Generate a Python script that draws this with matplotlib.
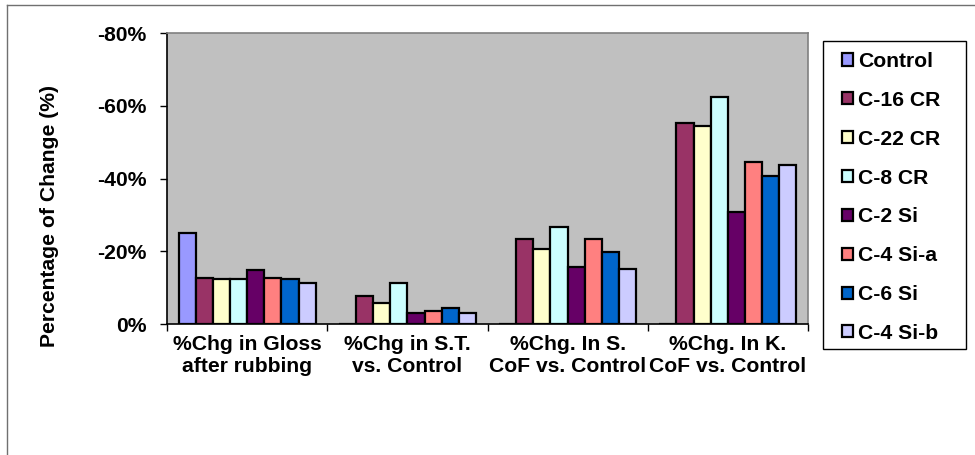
import numpy as np
import matplotlib
matplotlib.use('Agg')
import matplotlib.pyplot as plt
from matplotlib.patches import Rectangle
from matplotlib.lines import Line2D
from matplotlib.ticker import FuncFormatter

plt.rcParams['font.family'] = ['Liberation Sans', 'DejaVu Sans']
plt.rcParams['font.weight'] = 'bold'

# data: percentage change (negative = reduction)
categories = ['%Chg in Gloss\nafter rubbing', '%Chg in S.T.\nvs. Control',
              '%Chg. In S.\nCoF vs. Control', '%Chg. In K.\nCoF vs. Control']
series_names = ['Control', 'C-16 CR', 'C-22 CR', 'C-8 CR',
                'C-2 Si', 'C-4 Si-a', 'C-6 Si', 'C-4 Si-b']
control = [-25.0, 0, 0, 0]
c16_cr = [-12.7, -7.8, -23.3, -55.3]
c22_cr = [-12.4, -5.7, -20.7, -54.4]
c8_cr = [-12.5, -11.2, -26.6, -62.5]
c2_si = [-14.9, -3.1, -15.8, -30.7]
c4_si_a = [-12.7, -3.7, -23.3, -44.6]
c6_si = [-12.4, -4.3, -19.9, -40.7]
c4_si_b = [-11.4, -2.9, -15.0, -43.8]
series_values = [control, c16_cr, c22_cr, c8_cr, c2_si, c4_si_a, c6_si, c4_si_b]
colors = ['#9999FF', '#993366', '#FFFFCC', '#CCFFFF',
          '#660066', '#FF8080', '#0066CC', '#CCCCFF']
y_ticks = [0, -20, -40, -60, -80]

W, H = 975, 455
FS = 15.2
fig = plt.figure(figsize=(W / 100, H / 100), dpi=100)
fig.patch.set_facecolor('white')

# outer chart border (top and left visible)
fig.add_artist(Line2D([7 / W, 7 / W], [0, 1 - 5 / H], color='#707070', lw=1.0))
fig.add_artist(Line2D([7 / W, 1], [1 - 5 / H, 1 - 5 / H], color='#707070', lw=1.0))

left, right, top, bottom = 167, 808, 33, 324
ax = fig.add_axes([left / W, 1 - bottom / H, (right - left) / W, (bottom - top) / H])
ax.set_facecolor('#C0C0C0')

x = np.arange(len(categories))
n = len(series_names)
bw = 0.107
handles = []
for k, (name, vals, col) in enumerate(zip(series_names, series_values, colors)):
    b = ax.bar(x + (k - (n - 1) / 2) * bw, vals, width=bw, color=col,
               edgecolor='black', linewidth=1.6, label=name, zorder=3)
    handles.append(b)

ax.set_xlim(-0.5, len(categories) - 0.5)
ax.set_ylim(0, -80)
ax.set_yticks(y_ticks)
ax.yaxis.set_major_formatter(FuncFormatter(lambda v, p: f'{v:.0f}%'))
ax.tick_params(axis='y', direction='out', length=5, width=1, pad=10,
               labelsize=FS, colors='black')

ax.set_xticks(x)
ax.set_xticklabels(categories, fontsize=FS, fontweight='bold')
ax.tick_params(axis='x', which='major', length=0, pad=8)
ax.set_xticks(np.arange(len(categories) + 1) - 0.5, minor=True)
ax.tick_params(axis='x', which='minor', direction='out', length=5, width=1, color='black')

for side in ['top', 'right']:
    ax.spines[side].set_color('#808080')
    ax.spines[side].set_linewidth(1.2)
for side in ['left', 'bottom']:
    ax.spines[side].set_color('black')
    ax.spines[side].set_linewidth(1.2)

fig.text(50 / W, 1 - 216 / H, 'Percentage of Change (%)', rotation=90,
         ha='center', va='center', fontsize=FS, fontweight='bold')

# legend box
fig.add_artist(Rectangle((823 / W, 1 - 349 / H), (966 - 823) / W, (349 - 41) / H,
                         transform=fig.transFigure, facecolor='white',
                         edgecolor='black', lw=1.0))
leg = fig.legend(handles=handles, loc='upper left',
                 bbox_to_anchor=(842 / W, 1 - 52 / H), frameon=False,
                 prop={'weight': 'bold', 'size': FS},
                 handlelength=0.5, handleheight=0.5, handletextpad=0.25,
                 labelspacing=0.94, borderpad=0, borderaxespad=0)

fig.savefig('out.png', dpi=100)
